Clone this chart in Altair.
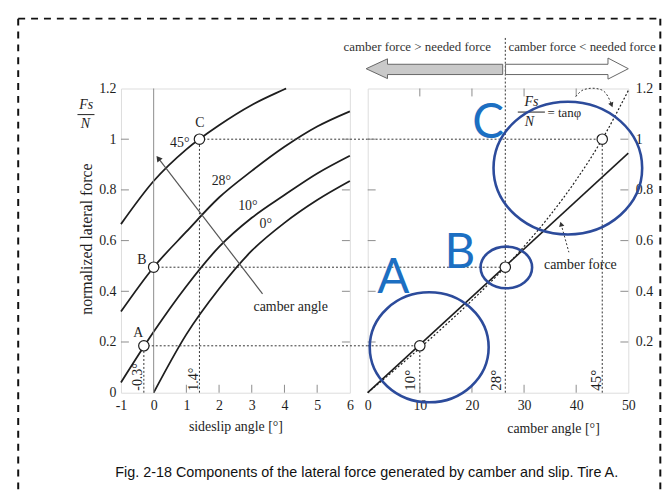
import altair as alt
import pandas as pd

# ---------------- values ----------------
# left panel: normalized lateral force vs sideslip angle, one curve per camber angle
slip_0 = [0, 1, 2, 3, 4, 5, 6]
force_0 = [0.0, 0.23, 0.41, 0.56, 0.67, 0.76, 0.835]
slip_10 = [-1, 0, 1, 2, 3, 4, 5, 6]
force_10 = [0.04, 0.24, 0.42, 0.575, 0.69, 0.78, 0.865, 0.935]
slip_28 = [-1, 0, 1, 2, 3, 4, 5, 6]
force_28 = [0.32, 0.495, 0.635, 0.77, 0.875, 0.97, 1.05, 1.11]
slip_45 = [-1, 0, 1, 2, 3, 4, 4.05]
force_45 = [0.665, 0.835, 0.96, 1.055, 1.135, 1.197, 1.2]
curve_names = ["0°", "10°", "28°", "45°"]
curve_label_x = [3.43, 2.88, 2.07, 0.80]
curve_label_y = [0.665, 0.737, 0.835, 0.985]

# operating points A, B, C
point_names = ["A", "B", "C"]
point_slip = [-0.3, 0.0, 1.4]
point_force = [0.185, 0.495, 1.0]
point_camber = [10, 26.4, 45]
point_name_x = [-0.47, -0.36, 1.41]
point_name_y = [0.235, 0.525, 1.063]
slip_marks = ["-0.3°", "1.4°"]
slip_mark_x = [-0.47, 1.22]
camber_marks = ["10°", "28°", "45°"]
camber_mark_x = [8.2, 24.7, 43.8]

# right panel: camber force (solid) and needed force tan(phi) (dotted)
camber_line_x = [0, 50]
camber_line_y = [0, 0.945]
tan_x = [0, 5, 10, 15, 20, 25, 30, 35, 40, 45, 50]
tan_y = [0, 0.087, 0.176, 0.268, 0.364, 0.466, 0.577, 0.700, 0.839, 1.0, 1.192]

# axes
slip_ticks = [-1, 0, 1, 2, 3, 4, 5, 6]
force_ticks = [0, 0.2, 0.4, 0.6, 0.8, 1.0, 1.2]
camber_ticks = [0, 10, 20, 30, 40, 50]

# annotations (data coordinates)
camber_arrow_x = [3.33, 0.14]
camber_arrow_y = [0.39, 0.925]
force_arrow_x = [38.6, 37.1]
force_arrow_y = [0.554, 0.665]
tan_arc_x = [39.9, 41.4, 43.1, 44.8, 46.1, 46.8]
tan_arc_y = [1.168, 1.195, 1.201, 1.195, 1.168, 1.135]
circle_x = [11.8, 26.6, 38.4]
circle_y = [0.179, 0.494, 0.886]
letter_x = [4.94, 17.7, 23.1]
letter_y = [0.392, 0.49, 1.003]
divider_top = 1.40
left_arrow_x = [-0.3, 3.8, 3.801, 25.9]
left_arrow_lo = [1.278, 1.239, 1.255, 1.255]
left_arrow_hi = [1.278, 1.317, 1.2955, 1.2955]
right_arrow_x = [26.45, 46.1, 46.101, 50.0]
right_arrow_lo = [1.255, 1.255, 1.237, 1.278]
right_arrow_hi = [1.2955, 1.2955, 1.320, 1.278]

caption = "Fig. 2-18 Components of the lateral force generated by camber and slip. Tire A."

# ---------------- styling / layout ----------------
SERIF = "Liberation Serif"
SANS = "Liberation Sans"
W1, W2, H, GAP = 231, 263, 307, 18
GRAY = "#8c8c8c"
INK = "#1e1e1e"
BLUE_TXT = "#1c6fc2"
BLUE_LINE = "#2c4b9b"
TICK = 8

xs1 = alt.Scale(domain=[-1, 6], nice=False, zero=False)
xs2 = alt.Scale(domain=[0, 50], nice=False, zero=False)
ys = alt.Scale(domain=[0, 1.2], nice=False, zero=False)

axis_common = dict(ticks=False, domain=False, grid=False, labelFont=SERIF, labelFontSize=14,
                   labelColor=INK, labelFlush=False, labelOverlap=False)
title_common = dict(titleFont=SERIF, titleFontWeight="normal", titleColor=INK)

AX = {
    "L": alt.Axis(values=slip_ticks, labelPadding=6, labelExpr="datum.value + ''",
                  title="sideslip angle [°]", titleFontSize=14, titleY=34,
                  titleBaseline="middle", **axis_common, **title_common),
    "R": alt.Axis(values=camber_ticks, labelPadding=6, title="camber angle [°]",
                  titleFontSize=14, titleY=36, titleX=187, titleAlign="center",
                  titleBaseline="middle", **axis_common, **title_common),
}
AY = {
    "L": alt.Axis(values=force_ticks, format="~g", labelPadding=5,
                  title="normalized lateral force", titleFontSize=16, titleX=-35,
                  titleY=H / 2 - 2, titleAngle=270, titleAlign="center",
                  titleBaseline="middle", **axis_common, **title_common),
    "R": alt.Axis(orient="right", values=force_ticks[1:], format="~g", labelPadding=7,
                  title="", **axis_common),
}
XS = {"L": xs1, "R": xs2}


def ex(field, p):
    return alt.X(field, type="quantitative", scale=XS[p], axis=AX[p])


def ey(field, p):
    return alt.Y(field, type="quantitative", scale=ys, axis=AY[p])


def one():
    return pd.DataFrame({"k": [0]})


# ================= LEFT PANEL =================
rows = []
for name, xs_, ys_ in zip(curve_names, [slip_0, slip_10, slip_28, slip_45],
                          [force_0, force_10, force_28, force_45]):
    for a, b in zip(xs_, ys_):
        rows.append({"slip": a, "force": b, "camber": name})
df_curves = pd.DataFrame(rows)

curves = alt.Chart(df_curves).mark_line(color=INK, strokeWidth=1.8, interpolate="monotone").encode(
    x=ex("slip", "L"), y=ey("force", "L"), detail="camber:N")

zero_line = alt.Chart(pd.DataFrame({"slip": [0], "lo": [0], "hi": [1.2]})).mark_rule(
    color=GRAY, strokeWidth=1).encode(x=ex("slip", "L"), y=ey("lo", "L"), y2="hi")

gap_x = 6 + GAP / (W1 / 7)
df_pts = pd.DataFrame({"name": point_names, "slip": point_slip, "force": point_force,
                       "camber": point_camber, "gap": [gap_x] * 3, "zero": [0] * 3,
                       "nx": point_name_x, "ny": point_name_y})

DOT = dict(color="#333", strokeWidth=1, strokeDash=[2, 2])
h_dots_left = alt.Chart(df_pts).mark_rule(**DOT).encode(
    x=ex("slip", "L"), x2="gap", y=ey("force", "L"))
v_dots_left = alt.Chart(df_pts[df_pts["name"] != "B"]).mark_rule(**DOT).encode(
    x=ex("slip", "L"), y=ey("zero", "L"), y2="force")

df_fticks = pd.DataFrame({"f": force_ticks[1:-1]})
df_sticks = pd.DataFrame({"s": slip_ticks[1:-1]})
ticks_l1 = alt.Chart(df_fticks).mark_rule(color=GRAY).encode(
    y=ey("f", "L"), x=alt.value(0), x2=alt.value(TICK))
ticks_l2 = alt.Chart(df_fticks).mark_rule(color=GRAY).encode(
    y=ey("f", "L"), x=alt.value(W1 - TICK), x2=alt.value(W1))
ticks_l3 = alt.Chart(df_sticks).mark_rule(color=GRAY).encode(
    x=ex("s", "L"), y=alt.value(H - TICK), y2=alt.value(H))

arrow_df = pd.DataFrame({"x": camber_arrow_x, "y": camber_arrow_y})
arrow_line = alt.Chart(arrow_df).mark_line(color="#555", strokeWidth=1.2).encode(
    x=ex("x", "L"), y=ey("y", "L"))
arrow_head = alt.Chart(arrow_df.iloc[[1]]).mark_point(
    shape="triangle-up", filled=True, color="#333", size=45, angle=322.5, opacity=1).encode(
    x=ex("x", "L"), y=ey("y", "L"))

PT = dict(shape="circle", filled=True, fill="white", stroke=INK, strokeWidth=1.2, size=110, opacity=1)
pts_left = alt.Chart(df_pts).mark_point(**PT).encode(x=ex("slip", "L"), y=ey("force", "L"))

df_clab = pd.DataFrame({"t": curve_names, "x": curve_label_x, "y": curve_label_y})
clabels = alt.Chart(df_clab).mark_text(font=SERIF, fontSize=14, color=INK).encode(
    x=ex("x", "L"), y=ey("y", "L"), text="t:N")
plabels = alt.Chart(df_pts).mark_text(font=SERIF, fontSize=14, color=INK).encode(
    x=ex("nx", "L"), y=ey("ny", "L"), text="name:N")
df_smark = pd.DataFrame({"t": slip_marks, "x": slip_mark_x, "y": [0.008, 0.008]})
smarks = alt.Chart(df_smark).mark_text(font=SERIF, fontSize=14, color=INK, angle=270,
                                       align="left", baseline="middle").encode(
    x=ex("x", "L"), y=ey("y", "L"), text="t:N")
camber_angle_txt = alt.Chart(pd.DataFrame({"x": [4.19], "y": [0.339], "t": ["camber angle"]})).mark_text(
    font=SERIF, fontSize=14, color=INK).encode(x=ex("x", "L"), y=ey("y", "L"), text="t:N")

frac_txt = alt.Chart(pd.DataFrame({"x": [-2.06, -2.09], "y": [1.135, 1.058], "t": ["Fs", "N"]})).mark_text(
    font=SERIF, fontSize=14, fontStyle="italic", color=INK).encode(
    x=ex("x", "L"), y=ey("y", "L"), text="t:N")
frac_bar = alt.Chart(pd.DataFrame({"x": [-2.33], "x2": [-1.81], "y": [1.097]})).mark_rule(
    color=INK, strokeWidth=1).encode(x=ex("x", "L"), x2="x2", y=ey("y", "L"))

# decorative dashed frame and figure caption (page furniture, pixel positioned)
BL, BR, BT, BB = -103.7, 544.3, -70.5, 405
dash = dict(color="#111", strokeWidth=2, strokeDash=[7, 6])
frame_top = alt.Chart(one()).mark_rule(**dash).encode(
    x=alt.value(BL), x2=alt.value(BR), y=alt.value(BT))
frame_left = alt.Chart(one()).mark_rule(**dash).encode(
    x=alt.value(BL), y=alt.value(BT), y2=alt.value(BB))
frame_right = alt.Chart(one()).mark_rule(**dash).encode(
    x=alt.value(BR), y=alt.value(BT), y2=alt.value(BB))
caption_txt = alt.Chart(one()).mark_text(text=caption, font=SANS, fontSize=14.5, color="#111",
                                         align="center", baseline="middle").encode(
    x=alt.value(248), y=alt.value(388.5))

left = alt.layer(
    curves, zero_line, h_dots_left, v_dots_left, ticks_l1, ticks_l2, ticks_l3,
    arrow_line, arrow_head, pts_left, clabels, plabels, smarks, camber_angle_txt,
    frac_txt, frac_bar, frame_top, frame_left, frame_right, caption_txt,
).properties(width=W1, height=H)

# ================= RIGHT PANEL =================
df_cam = pd.DataFrame({"x": camber_line_x, "y": camber_line_y})
cam_line = alt.Chart(df_cam).mark_line(color=INK, strokeWidth=1.6).encode(
    x=ex("x", "R"), y=ey("y", "R"))
df_tan = pd.DataFrame({"x": tan_x, "y": tan_y})
tan_line = alt.Chart(df_tan).mark_line(color=INK, strokeWidth=1.2, strokeDash=[2, 2],
                                       interpolate="monotone").encode(x=ex("x", "R"), y=ey("y", "R"))

df_pts_r = df_pts.assign(top=[point_force[0], divider_top, point_force[2]])
h_dots_right = alt.Chart(df_pts_r).mark_rule(**DOT).encode(
    x=ex("zero", "R"), x2="camber", y=ey("force", "R"))
v_dots_right = alt.Chart(df_pts_r).mark_rule(**DOT).encode(
    x=ex("camber", "R"), y=ey("zero", "R"), y2="top")

df_cticks = pd.DataFrame({"c": camber_ticks[1:-1]})
ticks_r1 = alt.Chart(df_fticks).mark_rule(color=GRAY).encode(
    y=ey("f", "R"), x=alt.value(0), x2=alt.value(TICK))
ticks_r2 = alt.Chart(df_fticks).mark_rule(color=GRAY).encode(
    y=ey("f", "R"), x=alt.value(W2 - TICK), x2=alt.value(W2))
ticks_r3 = alt.Chart(df_cticks).mark_rule(color=GRAY).encode(
    x=ex("c", "R"), y=alt.value(H - TICK), y2=alt.value(H))
ticks_r4 = alt.Chart(df_cticks).mark_rule(color=GRAY).encode(
    x=ex("c", "R"), y=alt.value(0), y2=alt.value(TICK))

pts_right = alt.Chart(df_pts).mark_point(**PT).encode(x=ex("camber", "R"), y=ey("force", "R"))

df_cmark = pd.DataFrame({"t": camber_marks, "x": camber_mark_x, "y": [0.008] * 3})
cmarks = alt.Chart(df_cmark).mark_text(font=SERIF, fontSize=15, color=INK, angle=270,
                                       align="left", baseline="middle").encode(
    x=ex("x", "R"), y=ey("y", "R"), text="t:N")

cf_txt = alt.Chart(pd.DataFrame({"x": [40.8], "y": [0.502], "t": ["camber force"]})).mark_text(
    font=SERIF, fontSize=14, color=INK).encode(x=ex("x", "R"), y=ey("y", "R"), text="t:N")
df_fa = pd.DataFrame({"x": force_arrow_x, "y": force_arrow_y})
fa_line = alt.Chart(df_fa).mark_line(**DOT).encode(x=ex("x", "R"), y=ey("y", "R"))
fa_head = alt.Chart(df_fa.iloc[[1]]).mark_point(shape="triangle-up", filled=True, color="#333",
                                                 size=30, angle=344, opacity=1).encode(
    x=ex("x", "R"), y=ey("y", "R"))

tan_txt = alt.Chart(pd.DataFrame({"x": [31.4, 31.0], "y": [1.145, 1.068], "t": ["Fs", "N"]})).mark_text(
    font=SERIF, fontSize=14, fontStyle="italic", color=INK).encode(
    x=ex("x", "R"), y=ey("y", "R"), text="t:N")
tan_bar = alt.Chart(pd.DataFrame({"x": [28.8], "x2": [34.0], "y": [1.107]})).mark_rule(
    color=INK, strokeWidth=1).encode(x=ex("x", "R"), x2="x2", y=ey("y", "R"))
tan_eq = alt.Chart(pd.DataFrame({"x": [34.5], "y": [1.102], "t": ["= tanφ"]})).mark_text(
    font=SERIF, fontSize=13, color=INK, align="left", baseline="middle").encode(
    x=ex("x", "R"), y=ey("y", "R"), text="t:N")
df_arc = pd.DataFrame({"x": tan_arc_x, "y": tan_arc_y})
arc_line = alt.Chart(df_arc).mark_line(interpolate="monotone", **DOT).encode(
    x=ex("x", "R"), y=ey("y", "R"))
arc_head = alt.Chart(df_arc.iloc[[-1]]).mark_point(shape="triangle-down", filled=True, color="#333",
                                                    size=30, angle=338, opacity=1).encode(
    x=ex("x", "R"), y=ey("y", "R"))


def ellipse_path(ratio):
    k = 0.5523
    b = ratio
    return (f"M 1 0 C 1 {k*b:.4f} {k} {b:.4f} 0 {b:.4f} "
            f"C {-k} {b:.4f} -1 {k*b:.4f} -1 0 "
            f"C -1 {-k*b:.4f} {-k} {-b:.4f} 0 {-b:.4f} "
            f"C {k} {-b:.4f} 1 {-k*b:.4f} 1 0 Z")


ellipse_px = [(120, 111), (52, 42), (150, 134)]
ellipses = []
for i, (w, h) in enumerate(ellipse_px):
    ellipses.append(
        alt.Chart(pd.DataFrame({"x": [circle_x[i]], "y": [circle_y[i]]})).mark_point(
            shape=ellipse_path(h / w), size=w * w, filled=False, stroke=BLUE_LINE,
            strokeWidth=2.6, opacity=1).encode(x=ex("x", "R"), y=ey("y", "R")))

letters = alt.Chart(pd.DataFrame({"t": point_names, "x": letter_x, "y": letter_y})).mark_text(
    font="Lato, Open Sans, Liberation Sans", fontSize=48, color=BLUE_TXT, align="center",
    baseline="alphabetic").encode(x=ex("x", "R"), y=ey("y", "R"), text="t:N")

df_la = pd.DataFrame({"x": left_arrow_x, "lo": left_arrow_lo, "hi": left_arrow_hi})
df_ra = pd.DataFrame({"x": right_arrow_x, "lo": right_arrow_lo, "hi": right_arrow_hi})
left_arrow = alt.Chart(df_la).mark_area(fill="#c9c9c9", stroke="#666", strokeWidth=1,
                                        opacity=1, fillOpacity=1).encode(
    x=ex("x", "R"), y=ey("lo", "R"), y2="hi")
right_arrow = alt.Chart(df_ra).mark_area(fill="white", stroke="#666", strokeWidth=1,
                                         opacity=1, fillOpacity=1).encode(
    x=ex("x", "R"), y=ey("lo", "R"), y2="hi")

head_txt_l = alt.Chart(pd.DataFrame({"x": [9.5], "y": [1.363], "t": ["camber force > needed force"]})).mark_text(
    font=SERIF, fontSize=13, color="#333", align="center", baseline="middle").encode(
    x=ex("x", "R"), y=ey("y", "R"), text="t:N")
head_txt_r = alt.Chart(pd.DataFrame({"x": [27.0], "y": [1.363], "t": ["camber force < needed force"]})).mark_text(
    font=SERIF, fontSize=13, color="#333", align="left", baseline="middle").encode(
    x=ex("x", "R"), y=ey("y", "R"), text="t:N")

right = alt.layer(
    cam_line, tan_line, h_dots_right, v_dots_right, ticks_r1, ticks_r2, ticks_r3, ticks_r4,
    pts_right, cmarks, cf_txt, fa_line, fa_head, tan_txt, tan_bar, tan_eq, arc_line, arc_head,
    *ellipses, letters, left_arrow, right_arrow, head_txt_l, head_txt_r,
).properties(width=W2, height=H)

chart = alt.hconcat(left, right, spacing=GAP, bounds="flush").properties(
    padding={"left": 8, "top": 7, "right": 0, "bottom": 0}
).configure_view(stroke=GRAY, strokeWidth=1).configure(background="white")

chart.save("out.html", embed_options={"renderer": "svg", "actions": False})
